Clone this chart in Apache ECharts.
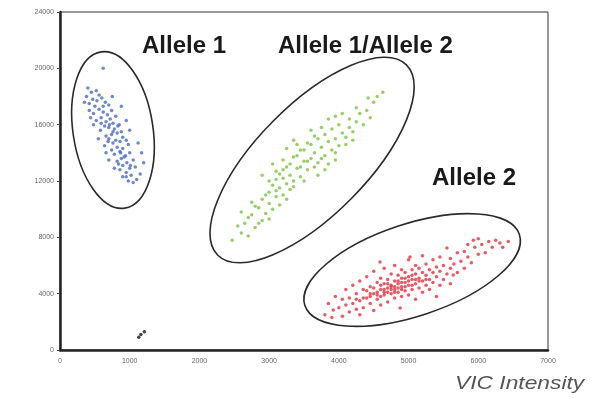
<!DOCTYPE html>
<html>
<head>
<meta charset="utf-8">
<script src="https://cdn.jsdelivr.net/npm/echarts@6/dist/echarts.min.js"></script>
<style>
  html, body { margin: 0; padding: 0; background: #fff; }
  #chart { width: 594px; height: 398px; }
</style>
</head>
<body>
<div id="chart"></div>
<script>
// 坐标轴刻度
const xTicks = [0, 1000, 2000, 3000, 4000, 5000, 6000, 7000];
const yTicks = [0, 4000, 8000, 12000, 16000, 20000, 24000];

// Allele 1 (蓝)
const allele1 = [
  [620,20000],[400,18600],[450,18300],[380,18000],[520,18400],[560,18100],[470,17800],[600,17900],
  [420,17500],[650,17600],[500,17300],[700,17400],[560,17100],[620,16900],[480,16800],[740,17000],
  [680,16700],[590,16500],[800,16600],[520,16300],[660,16200],[720,16400],[760,16100],[640,15900],
  [850,16000],[700,15800],[580,15600],[780,15700],[820,15400],[740,15300],[660,15200],[880,15500],
  [900,15100],[700,15000],[800,14900],[760,14700],[860,14800],[950,14900],[640,14500],[820,14400],
  [900,14300],[980,14600],[740,14200],[860,14100],[780,13900],[940,13800],[1000,14000],[880,13600],
  [820,13400],[960,13300],[1050,13500],[900,13100],[1000,12900],[860,12800],[1080,13000],[950,12600],
  [1020,12400],[900,12300],[1100,12100],[980,12000],[1150,12500],[1050,11900],[1200,13300],[1120,14700],
  [550,15000],[480,16000],[420,17000],[350,17600],[1000,15600],[950,16300],[700,13500],[660,14000],
  [780,12900],[1170,14000],[750,18000],[880,17300],[440,16500],[620,17300],[830,15900],[710,16000],
  [760,15500],[690,14800],[870,14000],[920,13700],[1010,13100],[840,13200],[950,12300],[590,16100],
  [530,17700]
];

// Allele 1/Allele 2 (绿)
const hetero = [
  [2470,7800],[2600,8300],[2700,8100],[2650,9000],[2800,8700],[2750,9600],[2900,9200],[2850,10100],
  [2950,9700],[3000,10400],[2900,10700],[3050,10000],[3100,10900],[3000,11200],[3150,11500],[3100,12100],
  [3200,11000],[3250,11800],[3050,11700],[3300,12400],[3200,12800],[3350,11600],[3400,12900],[3300,13200],
  [3450,12300],[3500,13400],[3400,13800],[3550,12800],[3600,13600],[3500,14200],[3650,14000],[3700,13300],
  [3600,14600],[3750,14400],[3800,13800],[3700,15000],[3850,14800],[3900,14200],[3800,15300],[3950,15000],
  [4000,14500],[4050,15400],[3900,15700],[4100,15100],[4150,15800],[4000,16000],[4200,15500],[4250,16200],
  [4300,16800],[4350,16000],[4400,17000],[4450,16500],[4500,17600],[4550,18000],[4630,18300],[4420,17900],
  [3150,12500],[3250,13000],[3350,13700],[3200,13500],[3450,14200],[3550,14700],[3650,15200],[3000,12000],
  [3100,12700],[3350,12000],[3450,13000],[3550,13400],[3650,13000],[3750,13600],[3850,13200],[3950,14000],
  [3300,11400],[3200,12200],[3100,11300],[2950,11000],[2800,10200],[2700,9400],[2600,9800],[2550,8800],
  [3400,14600],[3600,15600],[3750,15800],[3850,16400],[3950,16600],[4050,16800],[4150,16400],[4250,17200],
  [3050,13200],[2900,12400],[3500,12000],[3700,12400],[4100,14600],[4200,14900],[3800,12800],[3950,13500],
  [3250,14300],[3350,14900],[2850,9000],[2750,10500],[3000,9300],[3150,10300],[3250,10700]
];

// Allele 2 (红)
const allele2 = [
  [3800,2500],[3850,3300],[3900,2300],[3920,2840],[3950,3800],[4000,3000],[4050,2400],[4050,3600],
  [4100,3200],[4100,4300],[4150,2700],[4150,3700],[4200,3300],[4200,4600],[4250,2900],[4250,4000],
  [4300,3500],[4300,2500],[4300,4900],
  [4350,3000],[4350,4300],[4400,3700],[4400,5200],[4450,3300],[4450,4500],[4500,2800],[4500,4000],
  [4500,5600],[4550,3600],[4550,4800],[4590,6250],[4600,3200],[4600,4300],[4600,5100],[4650,3900],
  [4650,4700],[4650,5800],[4700,3400],[4700,4400],[4700,5000],[4750,4000],[4750,4600],[4750,5400],
  [4800,3700],[4800,4300],[4800,4900],[4800,6000],[4850,4100],[4850,4700],[4850,5300],[4880,2980],
  [4900,3800],[4900,4500],[4900,5100],[4900,5700],[4950,4200],[4950,4800],[4950,5500],[5000,3900],
  [5000,4600],[5000,5200],[5000,6400],[5020,6600],[5050,4300],[5050,5000],[5050,5700],[5100,3600],
  [5100,4700],[5100,5400],[5100,6000],[5150,4400],[5150,5100],[5150,5800],[5200,4100],[5200,4900],
  [5200,5500],[5200,6700],[5250,4600],[5250,5300],[5250,6100],[5300,4300],[5300,5000],[5300,5700],
  [5350,4800],[5350,5500],[5350,6400],[5400,3800],[5400,5200],[5400,5900],
  [5450,4600],[5450,5600],[5450,6600],[5500,5000],[5500,6000],[5550,5400],[5550,7240],[5600,4700],
  [5600,5800],[5600,6500],[5640,5330],[5650,6100],[5700,5500],[5700,6900],[5750,6300],[5800,5800],
  [5800,7000],[5850,6600],[5900,6200],[5930,7800],[5950,7300],[6000,6800],[6050,7500],[6100,6900],
  [6150,7700],[6200,7300],[6250,7800],[6310,7600],[6350,7300],[6430,7700],[6000,7900],[5850,7500],
  [4400,4200],[4450,4000],[4500,4400],[4550,4100],[4600,4600],[4650,4300],[4700,4700],[4750,4300],
  [4800,4500],[4850,4400],[4900,4800],[4950,4500],[5000,4900],[5050,4600],[5100,5000],[4550,3900],
  [4650,4100],[4750,4500],[4850,4900],[4950,5100],[5050,5300],[4600,3800],[4700,4100],[4800,4100],
  [4900,4300],[4450,3800],[4350,3700],[4250,3600],[5150,4900],[5250,5000]
];

// NTC (黑)
const ntc = [[1130,900],[1210,1300],[1160,1100]];

// 分组椭圆：中心（数据坐标）
const clusterCenters = [[760,15620],[3616,13490],[5051,5680]];

const chart = echarts.init(document.getElementById("chart"));

const labelStyle = {
  fontSize: 7, color: "#666", fontFamily: "Liberation Sans",
  formatter: function (v) { return String(v); }
};

chart.setOption({
  animation: false,
  grid: {
    left: 60, right: 46, top: 12, bottom: 48,
    show: true, borderColor: "#333", borderWidth: 1
  },
  xAxis: {
    type: "value",
    min: xTicks[0], max: xTicks[xTicks.length - 1], interval: 1000,
    splitLine: { show: false },
    axisLine: { lineStyle: { color: "#222", width: 2.5 } },
    axisTick: { show: false },
    axisLabel: Object.assign({ margin: 8 }, labelStyle)
  },
  yAxis: {
    type: "value",
    min: yTicks[0], max: yTicks[yTicks.length - 1], interval: 4000,
    splitLine: { show: false },
    axisLine: { show: true, lineStyle: { color: "#222", width: 2.5 } },
    axisTick: { show: true, length: 3, lineStyle: { color: "#444" } },
    axisLabel: Object.assign({ margin: 6 }, labelStyle)
  },
  series: [
    { type: "scatter", data: allele1, symbolSize: 3.5, itemStyle: { color: "#4a6cb8" } },
    { type: "scatter", data: hetero, symbolSize: 3.5, itemStyle: { color: "#7cc242" } },
    { type: "scatter", data: allele2, symbolSize: 3.5, itemStyle: { color: "#e2323f" } },
    { type: "scatter", data: ntc, symbolSize: 3.5, itemStyle: { color: "#111" } }
  ]
});

// 椭圆尺寸（像素）与旋转
const ellipseShapes = [
  { rx: 40, ry: 79, rotation: 0.15 },
  { rx: 134, ry: 55, rotation: 0.79 },
  { rx: 113, ry: 46, rotation: 0.32 }
];

const graphics = clusterCenters.map(function (c, i) {
  const p = chart.convertToPixel({ gridIndex: 0 }, c);
  return {
    type: "ellipse",
    x: p[0], y: p[1],
    rotation: ellipseShapes[i].rotation,
    shape: { cx: 0, cy: 0, rx: ellipseShapes[i].rx, ry: ellipseShapes[i].ry },
    style: { fill: "rgba(0,0,0,0)", stroke: "#2a2a2a", lineWidth: 1.6 },
    z: 10
  };
});

const titleFont = { fontSize: 24, fontWeight: "bold", fontFamily: "Liberation Sans", fill: "#1a1a1a" };
graphics.push(
  { type: "text", left: 142, top: 34, style: Object.assign({ text: "Allele 1" }, titleFont) },
  { type: "text", left: 278, top: 34, style: Object.assign({ text: "Allele 1/Allele 2" }, titleFont) },
  { type: "text", left: 432, top: 166, style: Object.assign({ text: "Allele 2" }, titleFont) },
  {
    type: "text", x: 455, y: 374, scaleX: 1.2,
    style: { text: "VIC Intensity", fontSize: 19, fontStyle: "italic", fontFamily: "Liberation Sans", fill: "#555" }
  }
);

chart.setOption({ graphic: graphics });
</script>
</body>
</html>
